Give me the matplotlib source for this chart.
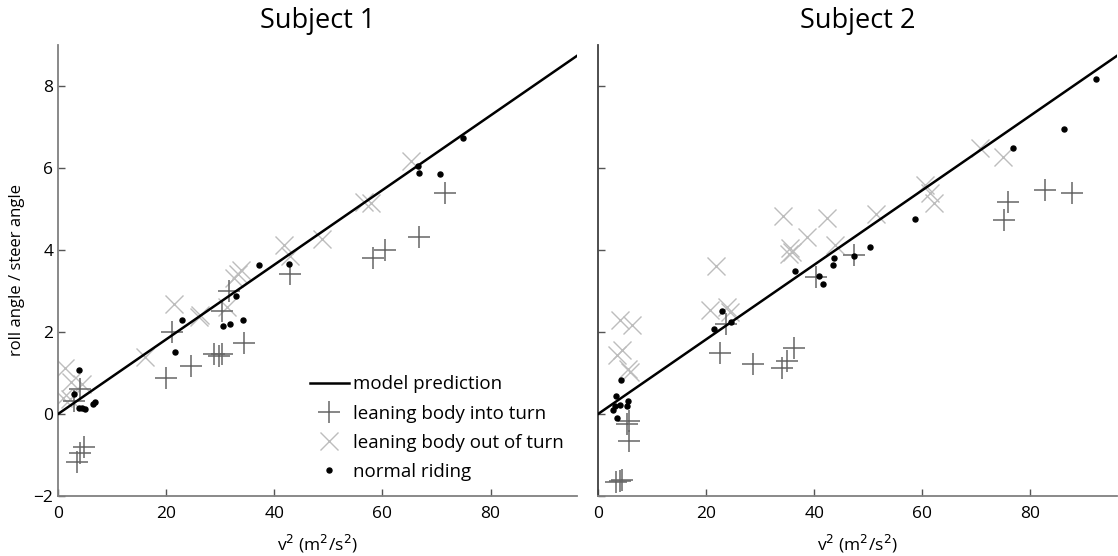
import numpy as np
import matplotlib
matplotlib.use("Agg")
import matplotlib.pyplot as plt

plt.rcParams['font.family'] = ['Open Sans', 'DejaVu Sans']

# model slope (roll angle / steer angle per v^2)
model_slope = 0.091
model_v2 = [0, 96]

# Subject 1
s1_into_x = [3.5, 4.0, 4.8, 3.0, 4.1, 19.9, 21.1, 24.6, 28.8, 29.7, 30.4, 30.4, 31.6, 34.4, 42.9, 58.2, 60.5, 66.7, 71.5]
s1_into_y = [-1.17, -0.95, -0.8, 0.32, 0.6, 0.89, 2.0, 1.16, 1.46, 1.42, 1.46, 2.5, 3.01, 1.72, 3.42, 3.81, 4.0, 4.32, 5.39]
s1_out_x = [1.0, 1.3, 2.2, 2.4, 4.4, 16.1, 21.4, 26.0, 26.3, 31.3, 32.5, 33.2, 33.8, 41.8, 43.0, 48.9, 56.6, 57.9, 65.3]
s1_out_y = [0.4, 1.13, 0.36, 0.77, 0.73, 1.38, 2.69, 2.36, 2.42, 2.6, 3.32, 3.42, 3.5, 4.12, 3.85, 4.27, 5.18, 5.14, 6.16]
s1_norm_x = [3.0, 3.9, 3.9, 4.4, 4.95, 6.4, 6.9, 21.7, 23.0, 30.6, 31.8, 32.9, 34.2, 37.2, 42.7, 66.5, 66.7, 70.6, 75.0]
s1_norm_y = [0.48, 1.07, 0.15, 0.14, 0.12, 0.24, 0.3, 1.5, 2.3, 2.15, 2.2, 2.88, 2.3, 3.63, 3.66, 6.04, 5.87, 5.86, 6.73]

# Subject 2
s2_into_x = [3.3, 4.0, 4.5, 5.3, 5.8, 5.8, 22.5, 23.6, 28.7, 34.1, 35.0, 36.2, 40.4, 47.4, 75.1, 75.8, 82.6, 87.6]
s2_into_y = [-1.65, -1.63, -1.6, -0.25, -0.17, -0.66, 1.48, 2.2, 1.23, 1.13, 1.3, 1.62, 3.34, 3.87, 4.73, 5.18, 5.47, 5.38]
s2_out_x = [3.5, 4.1, 4.5, 5.6, 5.9, 6.3, 20.8, 21.9, 23.9, 24.4, 34.2, 35.3, 35.6, 35.9, 38.6, 42.3, 43.8, 51.4, 60.5, 61.4, 62.1, 70.7, 74.9]
s2_out_y = [1.45, 2.3, 1.55, 1.1, 1.02, 2.16, 2.54, 3.6, 2.6, 2.48, 4.83, 3.91, 4.04, 3.95, 4.31, 4.79, 4.12, 4.89, 5.59, 5.38, 5.14, 6.49, 6.26]
s2_norm_x = [2.8, 3.2, 3.3, 3.5, 4.1, 4.2, 5.3, 5.6, 21.4, 22.9, 24.6, 36.4, 40.8, 41.6, 43.5, 43.7, 47.4, 50.3, 58.7, 76.8, 86.2, 92.1]
s2_norm_y = [0.09, 0.2, 0.44, -0.09, 0.22, 0.83, 0.2, 0.32, 2.08, 2.52, 2.24, 3.49, 3.36, 3.18, 3.63, 3.81, 3.86, 4.08, 4.75, 6.49, 6.96, 8.16]

subjects = [
    ("Subject 1", s1_into_x, s1_into_y, s1_out_x, s1_out_y, s1_norm_x, s1_norm_y),
    ("Subject 2", s2_into_x, s2_into_y, s2_out_x, s2_out_y, s2_norm_x, s2_norm_y),
]

fig = plt.figure(figsize=(11.18, 5.56), dpi=100)
ax1 = fig.add_axes([0.0519, 0.1079, 0.4642, 0.8112])
ax2 = fig.add_axes([0.5349, 0.1079, 0.4642, 0.8112])

for ax, (title, ix, iy, ox, oy, nx, ny) in zip([ax1, ax2], subjects):
    mv = np.array(model_v2)
    ax.plot(mv, model_slope * mv, color='black', lw=1.8, label='model prediction', zorder=4)
    ax.plot(ix, iy, ls='none', marker='+', ms=16, mew=1.1, color='#666666',
            label='leaning body into turn', zorder=2)
    ax.plot(ox, oy, ls='none', marker='x', ms=13, mew=1.0, color='#bdbdbd',
            label='leaning body out of turn', zorder=1)
    ax.plot(nx, ny, ls='none', marker='o', ms=3.6, color='black',
            label='normal riding', zorder=3)

    ax.set_xlim(0, 96)
    ax.set_ylim(-2, 9)
    ax.set_xticks([0, 20, 40, 60, 80])
    ax.set_yticks([-2, 0, 2, 4, 6, 8])
    ax.tick_params(direction='in', length=5, width=1, labelsize=12.5, colors='#555555',
                   labelcolor='black')
    ax.tick_params(axis='x', pad=7)
    for side in ['top', 'right']:
        ax.spines[side].set_visible(False)
    ax.spines['bottom'].set_color('#808080')
    ax.spines['left'].set_color('#808080')
    ax.spines['bottom'].set_linewidth(1.3)
    ax.spines['left'].set_linewidth(1.3)
    ax.set_title(title, fontsize=19.5, pad=12)
    ax.set_xlabel('v$^2$ (m$^2$/s$^2$)', fontsize=12.5, labelpad=8)

ax2.spines['left'].set_color('#404040')
ax2.tick_params(labelleft=False)
ax1.set_ylabel('roll angle / steer angle', fontsize=12, labelpad=6)

ax1.legend(loc='lower left', bbox_to_anchor=(0.456, 0.0), frameon=False, fontsize=13.5,
           handlelength=2.1, handletextpad=0.2, labelspacing=0.6, borderpad=0.3)

fig.savefig('out.png', dpi=100)
